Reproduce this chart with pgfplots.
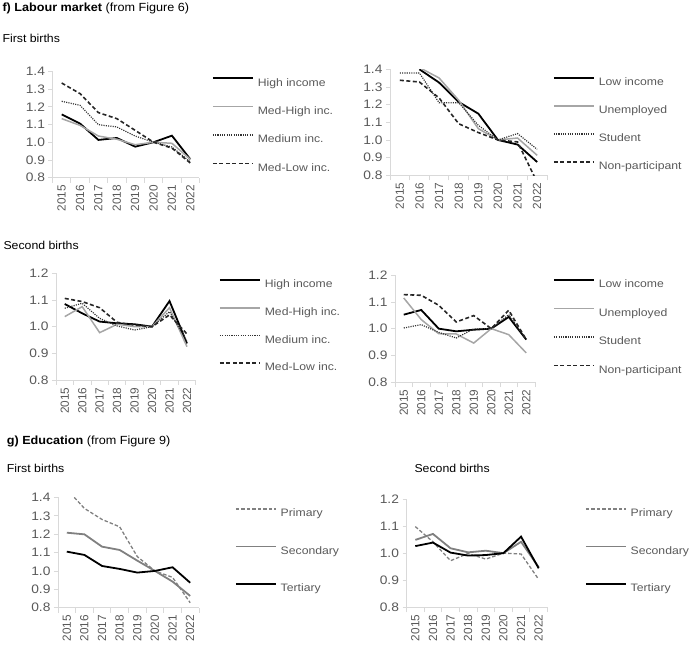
\documentclass[border=0pt]{standalone}
\usepackage{pgfplots}
\pgfplotsset{compat=1.18}
\usepackage{fontspec}
\setmainfont{Liberation Sans}
\newfontfamily\chartfont{Liberation Sans}[FakeStretch=1.12]
\newfontfamily\legfam{Liberation Sans}[FakeStretch=1.13]
\newfontfamily\headfam{Liberation Sans}[FakeStretch=1.07]
\newfontfamily\headbf{Liberation Sans Bold}[FakeStretch=1.07]
\definecolor{tickgray}{HTML}{595959}
\definecolor{axisgray}{HTML}{D9D9D9}
\definecolor{lgray}{HTML}{A6A6A6}
\definecolor{mgray}{HTML}{808080}
\definecolor{dgray}{HTML}{333333}
\newcommand\ytickfont{\chartfont\fontsize{12.3}{14}\selectfont}
\newcommand\xtickfont{\fontsize{11.8}{14}\selectfont}
\newcommand\legfont{\legfam\fontsize{10.8}{13}\selectfont}
\newcommand\headfont{\headfam\fontsize{11.5}{14}\selectfont}
\newcommand\titlefont{\headfam\fontsize{11.8}{14}\selectfont}
\newcommand\titlebf{\headbf\fontsize{11.8}{14}\selectfont}
\pgfplotsset{
  panel/.style={
    scale only axis,
    xmin=-0.5, xmax=7.5,
    xtick={0,1,2,3,4,5,6,7},
    xticklabels={2015,2016,2017,2018,2019,2020,2021,2022},
    minor xtick={-0.5,0.5,1.5,2.5,3.5,4.5,5.5,6.5,7.5},
    major x tick style={draw=none},
    minor x tick style={draw=axisgray, line width=0.8pt},
    ytick style={draw=axisgray, line width=0.8pt},
    tick align=outside,
    major tick length=4pt, minor tick length=5pt,
    axis x line*=bottom, axis y line*=left,
    axis line style={draw=axisgray, line width=0.8pt},
    ymin=0.8,
    yticklabel style={font=\ytickfont, text=tickgray, /pgf/number format/.cd, fixed, fixed zerofill, precision=1, assume math mode=true},
    xticklabel style={font=\xtickfont, text=tickgray, rotate=90, anchor=east},
    legend cell align=left,
    legend style={draw=none, fill=none, inner sep=0pt, outer sep=0pt, column sep=4pt,
      font=\legfont, anchor=north west,
      nodes={inner sep=0pt, outer sep=0pt, text height=7.7pt, text depth=0pt, text=tickgray}},
    legend image code/.code={\draw[##1] (0pt,3.85pt) -- (40pt,3.85pt);},
  },
  blk/.style={draw=black, line width=1.8pt, mark=none},
  lgr/.style={draw=lgray, line width=1.5pt, mark=none},
  dot/.style={draw=dgray, line width=1.2pt, dash pattern=on 1.1pt off 1.2pt, mark=none},
  dsh/.style={draw=black!85, line width=1.6pt, dash pattern=on 4pt off 2.5pt, mark=none},
  pdsh/.style={draw=mgray, line width=1.3pt, dash pattern=on 3.5pt off 2pt, mark=none},
  mgr/.style={draw=mgray, line width=1.8pt, mark=none},
}
\begin{document}
\begin{tikzpicture}[x=1pt,y=1pt]
\path[use as bounding box] (0,0) rectangle (689,-647);

\node[anchor=base west, inner sep=0pt] at (2.3,-11.5) {{\titlebf f) Labour market}{\titlefont\ (from Figure 6)}};
\node[anchor=base west, inner sep=0pt, font=\headfont] at (2.3,-42.7) {First births};
\node[anchor=base west, inner sep=0pt, font=\headfont] at (3.3,-249.3) {Second births};
\node[anchor=base west, inner sep=0pt] at (6.7,-445) {{\titlebf g) Education}{\titlefont\ (from Figure 9)}};
\node[anchor=base west, inner sep=0pt, font=\headfont] at (6.7,-472.7) {First births};
\node[anchor=base west, inner sep=0pt, font=\headfont] at (414.3,-472.7) {Second births};

% Panel 1
\begin{axis}[panel, at={(52.5pt,-177.7pt)}, anchor=south west, width=147pt, height=106.4pt,
  ymax=1.4, ytick={0.8,0.9,1.0,1.1,1.2,1.3,1.4},
  legend style={at={(axis description cs:1.085,0.942)}, row sep=19.9pt}]
\addplot[blk] coordinates {(0,1.157) (1,1.105) (2,1.013) (3,1.024) (4,0.975) (5,1.0) (6,1.037) (7,0.904)};
\addlegendentry{High income}
\addplot[lgr] coordinates {(0,1.133) (1,1.095) (2,1.035) (3,1.017) (4,0.986) (5,1.0) (6,0.994) (7,0.904)};
\addlegendentry{Med-High inc.}
\addplot[dot] coordinates {(0,1.231) (1,1.208) (2,1.099) (3,1.086) (4,1.035) (5,1.0) (6,0.973) (7,0.889)};
\addlegendentry{Medium inc.}
\addplot[dsh] coordinates {(0,1.334) (1,1.274) (2,1.167) (3,1.133) (4,1.067) (5,1.0) (6,0.967) (7,0.883)};
\addlegendentry{Med-Low inc.}
\end{axis}

% Panel 2
\begin{axis}[panel, at={(390pt,-175.3pt)}, anchor=south west, width=157pt, height=106pt,
  ymax=1.4, ytick={0.8,0.9,1.0,1.1,1.2,1.3,1.4},
  legend style={at={(axis description cs:1.038,0.925)}, row sep=19.6pt}]
\addplot[blk] coordinates {(1,1.40) (2,1.325) (3,1.215) (4,1.149) (5,1.0) (6,0.974) (7,0.875)};
\addlegendentry{Low income}
\addplot[lgr] coordinates {(1,1.41) (2,1.351) (3,1.225) (4,1.064) (5,1.0) (6,1.011) (7,0.913)};
\addlegendentry{Unemployed}
\addplot[dot] coordinates {(0,1.379) (1,1.379) (2,1.211) (3,1.211) (4,1.083) (5,1.0) (6,1.036) (7,0.947)};
\addlegendentry{Student}
\addplot[dsh] coordinates {(0,1.338) (1,1.328) (2,1.238) (3,1.092) (4,1.042) (5,1.0) (6,0.989) (7,0.76)};
\addlegendentry{Non-participant}
\end{axis}

% Panel 3
\begin{axis}[panel, at={(56pt,-380pt)}, anchor=south west, width=139.7pt, height=106.7pt,
  ymax=1.2, ytick={0.8,0.9,1.0,1.1,1.2},
  legend style={at={(axis description cs:1.167,0.945)}, row sep=19.3pt}]
\addplot[blk] coordinates {(0,1.085) (1,1.05) (2,1.019) (3,1.0125) (4,1.009) (5,1.0) (6,1.096) (7,0.937)};
\addlegendentry{High income}
\addplot[lgr] coordinates {(0,1.0375) (1,1.075) (2,0.9775) (3,1.009) (4,1.0) (5,1.0) (6,1.071) (7,0.925)};
\addlegendentry{Med-High inc.}
\addplot[dot] coordinates {(0,1.069) (1,1.0875) (2,1.031) (3,1.0025) (4,0.9875) (5,1.0) (6,1.056) (7,0.944)};
\addlegendentry{Medium inc.}
\addplot[dsh] coordinates {(0,1.106) (1,1.094) (2,1.071) (3,1.016) (4,1.006) (5,1.0) (6,1.044) (7,0.9725)};
\addlegendentry{Med-Low inc.}
\end{axis}

% Panel 4
\begin{axis}[panel, at={(395pt,-382pt)}, anchor=south west, width=140pt, height=106.7pt,
  ymax=1.2, ytick={0.8,0.9,1.0,1.1,1.2},
  legend style={at={(axis description cs:1.129,0.963)}, row sep=20pt}]
\addplot[blk] coordinates {(0,1.0525) (1,1.07) (2,1.0) (3,0.99) (4,0.996) (5,1.0) (6,1.044) (7,0.959)};
\addlegendentry{Low income}
\addplot[lgr] coordinates {(0,1.115) (1,1.034) (2,0.981) (3,0.98) (4,0.946) (5,1.0) (6,0.9775) (7,0.909)};
\addlegendentry{Unemployed}
\addplot[dot] coordinates {(0,1.0025) (1,1.015) (2,0.986) (3,0.965) (4,0.999) (5,1.0) (6,1.0525) (7,0.96)};
\addlegendentry{Student}
\addplot[dsh] coordinates {(0,1.1275) (1,1.125) (2,1.0875) (3,1.025) (4,1.049) (5,1.0) (6,1.069) (7,0.959)};
\addlegendentry{Non-participant}
\end{axis}

% Panel 5
\begin{axis}[panel, at={(58pt,-607.7pt)}, anchor=south west, width=141pt, height=110.3pt,
  ymax=1.4, ytick={0.8,0.9,1.0,1.1,1.2,1.3,1.4},
  legend style={at={(axis description cs:1.255,0.902)}, row sep=29pt}]
\addplot[pdsh] coordinates {(0,1.444) (1,1.34) (2,1.28) (3,1.24) (4,1.078) (5,1.0) (6,0.965) (7,0.827)};
\addlegendentry{Primary}
\addplot[mgr] coordinates {(0,1.208) (1,1.199) (2,1.132) (3,1.114) (4,1.056) (5,1.0) (6,0.942) (7,0.864)};
\addlegendentry{Secondary}
\addplot[blk] coordinates {(0,1.105) (1,1.087) (2,1.027) (3,1.011) (4,0.991) (5,1.0) (6,1.02) (7,0.936)};
\addlegendentry{Tertiary}
\end{axis}

% Panel 6
\begin{axis}[panel, at={(406.5pt,-607.3pt)}, anchor=south west, width=141pt, height=108.3pt,
  ymax=1.2, ytick={0.8,0.9,1.0,1.1,1.2},
  legend style={at={(axis description cs:1.265,0.915)}, row sep=29pt}]
\addplot[pdsh] coordinates {(0,1.098) (1,1.042) (2,0.972) (3,0.999) (4,0.978) (5,1.0) (6,0.997) (7,0.903)};
\addlegendentry{Primary}
\addplot[mgr] coordinates {(0,1.049) (1,1.071) (2,1.018) (3,1.003) (4,1.009) (5,1.0) (6,1.042) (7,0.948)};
\addlegendentry{Secondary}
\addplot[blk] coordinates {(0,1.026) (1,1.039) (2,1.002) (3,0.991) (4,0.993) (5,1.0) (6,1.061) (7,0.944)};
\addlegendentry{Tertiary}
\end{axis}
\end{tikzpicture}
\end{document}
